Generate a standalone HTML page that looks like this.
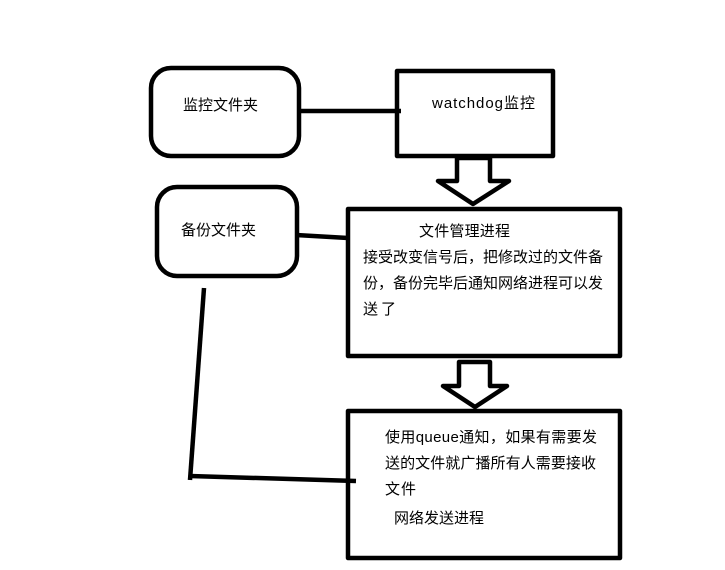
<!DOCTYPE html>
<html><head><meta charset="utf-8"><style>html,body{margin:0;padding:0;background:#fff}svg{display:block}</style></head>
<body>
<svg width="725" height="570" viewBox="0 0 725 570" xmlns="http://www.w3.org/2000/svg" font-family="'Liberation Sans','Noto Sans CJK SC',sans-serif" font-size="15" fill="#000">
<g fill="none" stroke="#000" stroke-width="4.5" stroke-linejoin="round">
<rect x="151" y="68" width="148" height="88" rx="20"/>
<rect x="397" y="71" width="156" height="85"/>
<rect x="157" y="187" width="140" height="89" rx="20"/>
<rect x="348" y="209" width="272" height="147"/>
<rect x="348" y="411" width="272" height="147"/>
<line x1="299" y1="111" x2="401" y2="111"/>
<line x1="296" y1="235" x2="348" y2="238"/>
<line x1="204" y1="288" x2="190" y2="480"/>
<line x1="190" y1="476" x2="356" y2="481"/>
<polygon points="457,158 490,158 490,181 509,181 473,204 438,181 457,181"/>
<polygon points="459,362 490,362 490,386 507,386 475,407 443,386 459,386"/>
</g>
<text x="183" y="110" textLength="75">监控文件夹</text>
<text x="432" y="108" textLength="103">watchdog监控</text>
<text x="181" y="235" textLength="75">备份文件夹</text>
<text x="419" y="236" textLength="91">文件管理进程</text>
<text x="363" y="262" textLength="240">接受改变信号后，把修改过的文件备</text>
<text x="363" y="288" textLength="240">份，备份完毕后通知网络进程可以发</text>
<text x="363" y="314" textLength="33">送了</text>
<text x="385" y="442" textLength="212">使用queue通知，如果有需要发</text>
<text x="385" y="468" textLength="211">送的文件就广播所有人需要接收</text>
<text x="385" y="494" textLength="31">文件</text>
<text x="394" y="523" textLength="90">网络发送进程</text>
</svg>
</body></html>
